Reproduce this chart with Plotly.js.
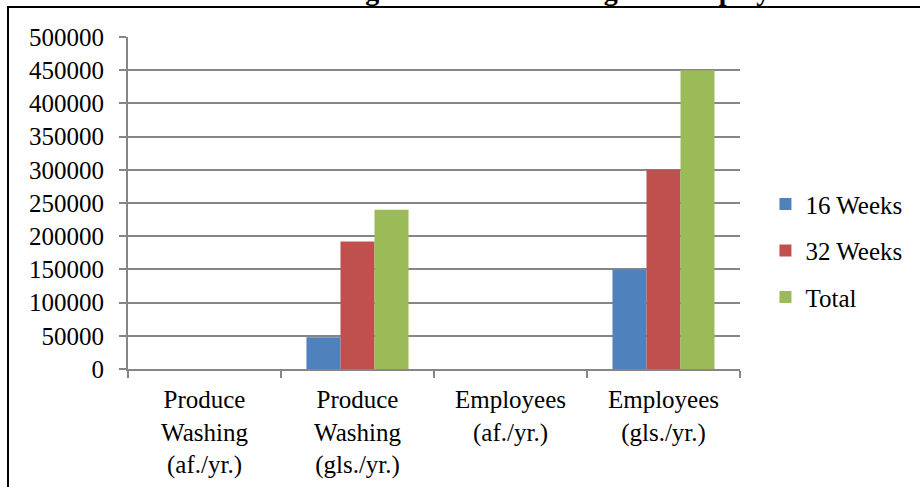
<!DOCTYPE html>
<html>
<head>
<meta charset="utf-8">
<script src="https://cdn.plot.ly/plotly-3.0.1.min.js"></script>
<style>
  html, body { margin: 0; padding: 0; background: #fff; overflow: hidden; }
  #wrap { position: relative; width: 920px; height: 487px; }
  #chart { width: 920px; height: 487px; }
  #frame { position: absolute; left: 7px; top: 6px; width: 960px; height: 520px;
           border: 2px solid #000; box-sizing: border-box; pointer-events: none; }
</style>
</head>
<body>
<div id="wrap">
  <div id="chart"></div>
  <div id="frame"></div>
</div>
<script>
const categories = [
  "Produce<br>Washing<br>(af./yr.)",
  "Produce<br>Washing<br>(gls./yr.)",
  "Employees<br>(af./yr.)",
  "Employees<br>(gls./yr.)"
];
const seriesNames = ["16 Weeks", "32 Weeks", "Total"];
const weeks16 = [0.15, 48000, 0.46, 150000];
const weeks32 = [0.59, 192000, 0.92, 300000];
const total   = [0.74, 240000, 1.38, 450000];
const yTicks = [0, 50000, 100000, 150000, 200000, 250000, 300000, 350000, 400000, 450000, 500000];
const chartTitle = "Chart 4: Baseline Water Usage: Produce Washing and Employees";

const colors = ["#4F81BD", "#C0504D", "#9BBB59"];
const seriesValues = [weeks16, weeks32, total];
const font = "Liberation Serif, Times New Roman, serif";

const traces = seriesValues.map((vals, i) => ({
  type: "bar",
  name: seriesNames[i],
  x: categories,
  y: vals,
  marker: { color: colors[i], line: { width: 0 } },
  legendgroup: "g" + i,
  hoverinfo: "x+y+name"
}));

const layout = {
  width: 920,
  height: 487,
  margin: { l: 128, r: 180, t: 37, b: 118, pad: 0, autoexpand: false },
  paper_bgcolor: "#fff",
  plot_bgcolor: "#fff",
  font: { family: font, size: 25, color: "#000" },
  barmode: "group",
  bargap: 0.333,
  bargroupgap: 0,
  showlegend: true,
  legend: {
    xref: "container", yref: "container",
    x: 0.832, xanchor: "left",
    y: 0.485, yanchor: "middle",
    traceorder: "grouped",
    tracegroupgap: 11,
    font: { family: font, size: 25, color: "#000" },
    itemwidth: 30
  },
  xaxis: {
    type: "category",
    tickson: "boundaries",
    ticks: "outside",
    ticklen: 7,
    tickcolor: "#868686",
    tickwidth: 2,
    showline: true,
    linecolor: "#868686",
    linewidth: 2,
    showgrid: false,
    tickfont: { family: font, size: 25, color: "#000" },
    ticklabelstandoff: 7,
    fixedrange: true
  },
  yaxis: {
    range: [0, 500000],
    tickvals: yTicks,
    ticktext: yTicks.map(v => String(v)),
    ticks: "outside",
    ticklen: 7,
    tickcolor: "#868686",
    tickwidth: 2,
    showline: true,
    linecolor: "#868686",
    linewidth: 2,
    showgrid: true,
    gridcolor: "#868686",
    gridwidth: 2,
    zeroline: false,
    tickfont: { family: font, size: 25, color: "#000" },
    ticklabelstandoff: 10,
    fixedrange: true
  },
  annotations: [{
    text: "<b>" + chartTitle + "</b>",
    xref: "paper", yref: "paper",
    x: -0.173, xanchor: "left",
    y: 1, yanchor: "bottom",
    yshift: 29,
    showarrow: false,
    font: { family: font, size: 28, color: "#000" }
  }]
};

Plotly.newPlot("chart", traces, layout, { displayModeBar: false, staticPlot: true });
</script>
</body>
</html>
